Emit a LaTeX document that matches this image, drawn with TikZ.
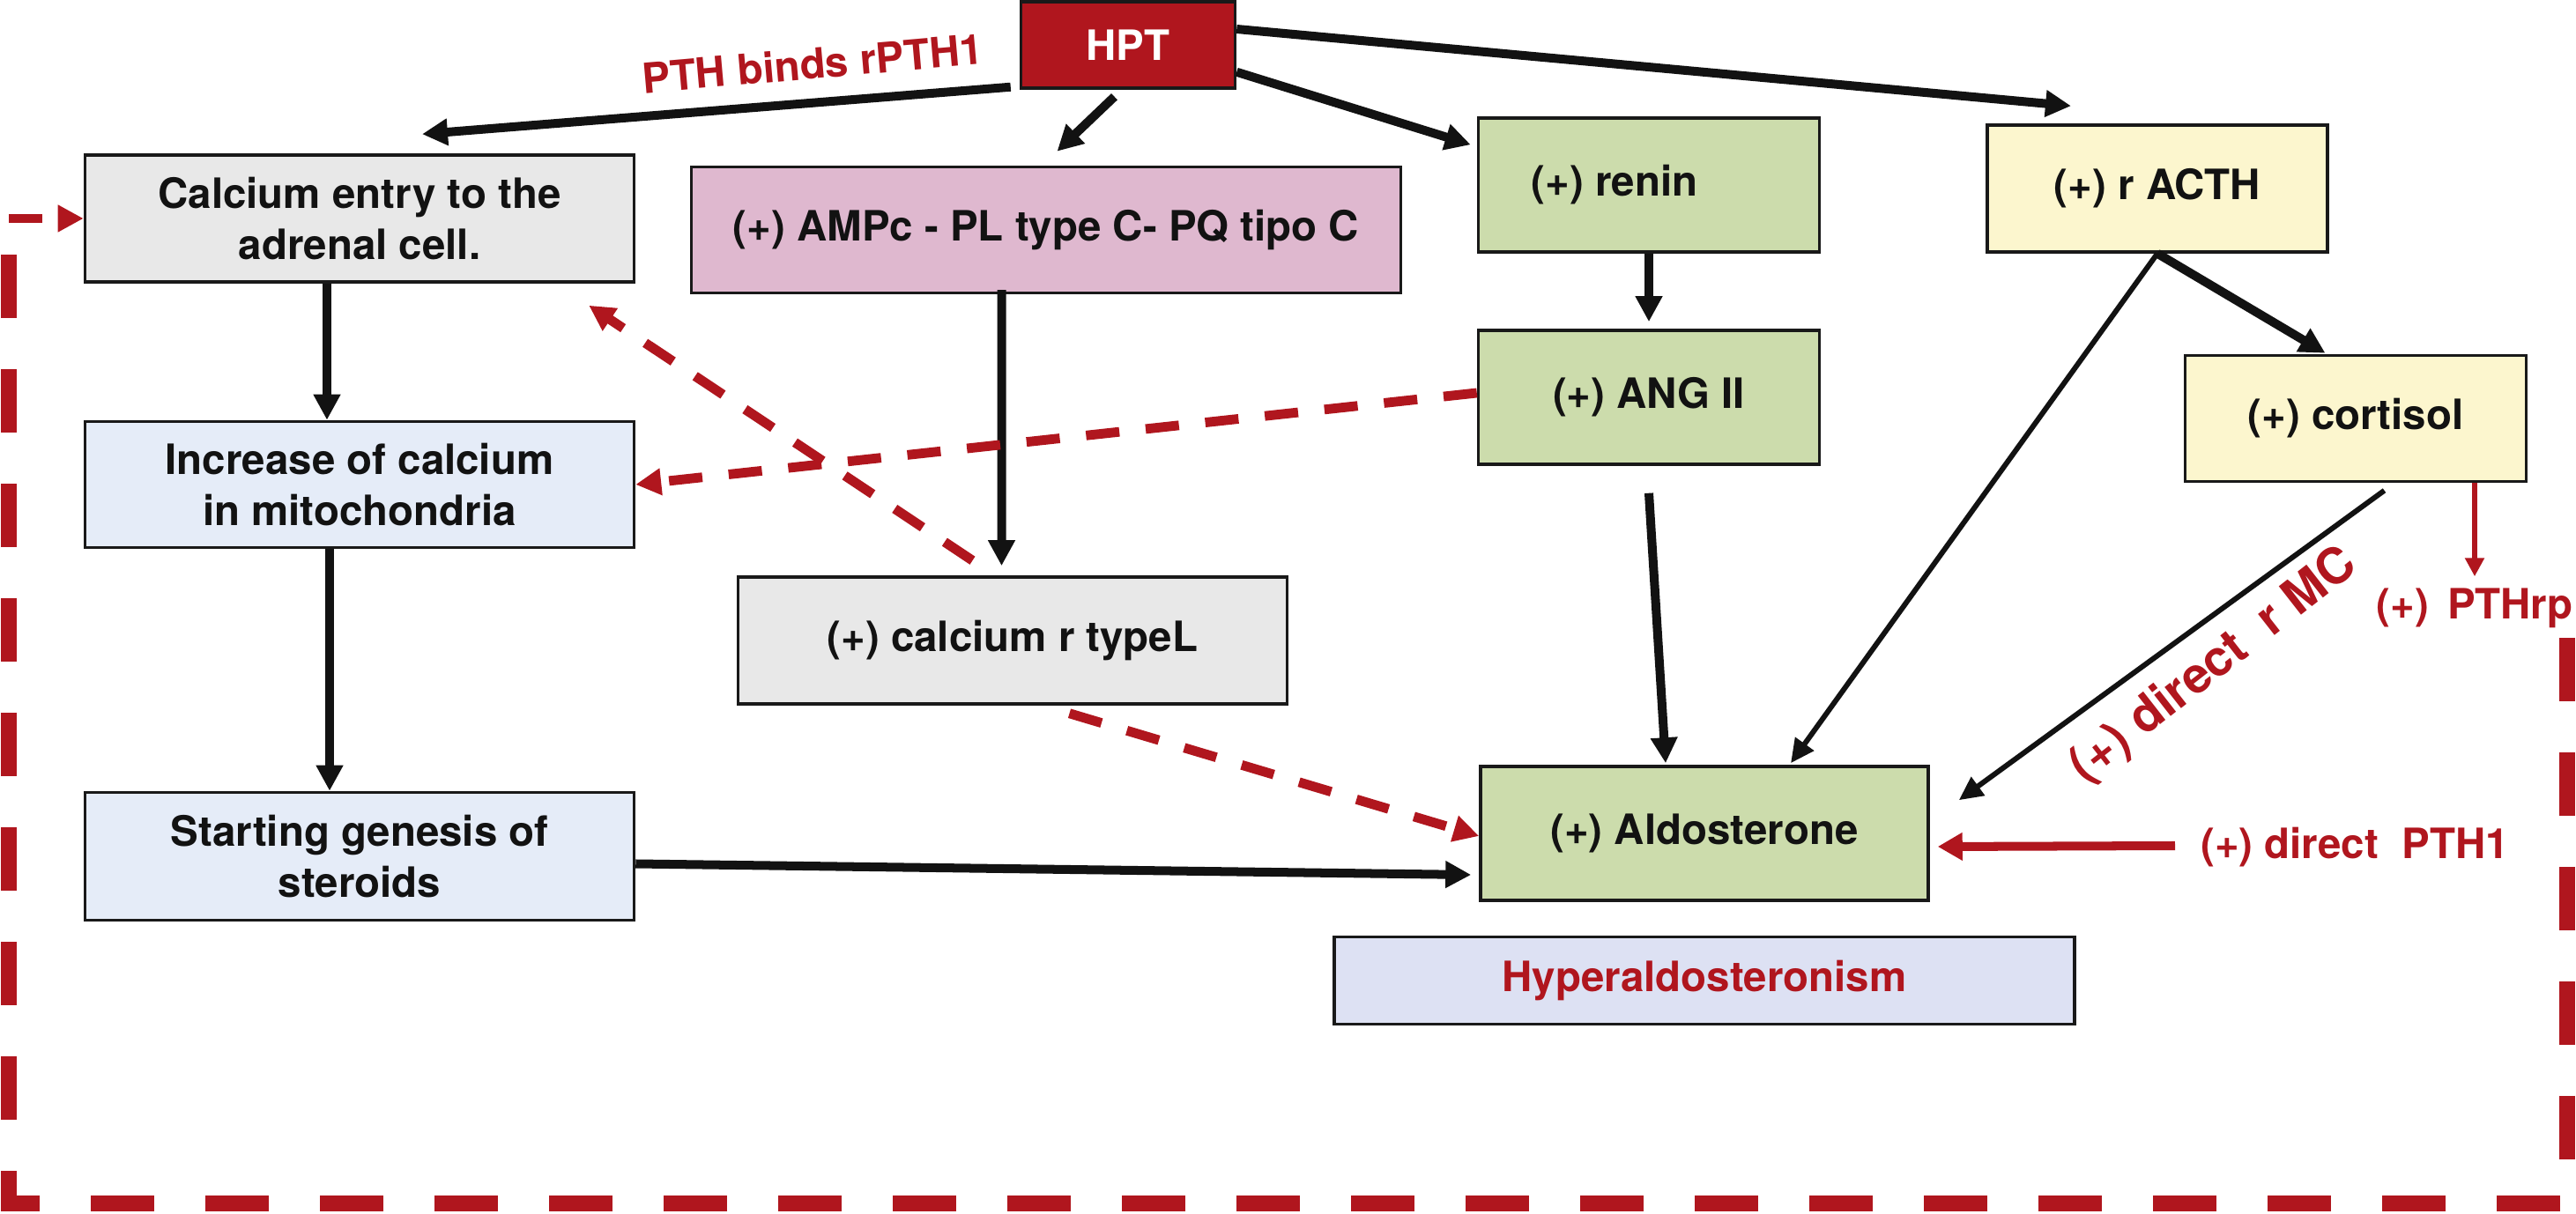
\documentclass[tikz,border=0pt]{standalone}
\usepackage{fontspec}
\setmainfont{TeX Gyre Heros}
\usetikzlibrary{arrows.meta,calc}
\definecolor{hptred}{HTML}{B0161E}
\definecolor{cagray}{HTML}{E8E8E8}
\definecolor{mitoblue}{HTML}{E5ECF8}
\definecolor{ampcpink}{HTML}{DFB8CF}
\definecolor{raagreen}{HTML}{CCDCAC}
\definecolor{acthyellow}{HTML}{FCF6CE}
\definecolor{hyperblue}{HTML}{DDE1F3}

\begin{document}
\begin{tikzpicture}[
 	box/.style={draw=black!90, line width=1pt, inner sep=0pt, align=center,
 		font=\fontsize{13.5}{16.3}\selectfont\bfseries, text=black!93},
 	redtext/.style={text=hptred, inner sep=1pt, font=\fontsize{13.5}{16.3}\selectfont\bfseries},
 	flow/.style={draw=black!93, line width=2.85pt, -{Triangle[length=0.29cm,width=0.29cm]}},
 	thinflow/.style={draw=black!93, line width=1.7pt, -{Triangle[length=0.27cm,width=0.25cm]}},
 	redflow/.style={draw=hptred, line width=2.85pt, -{Triangle[length=0.28cm,width=0.30cm]}},
 	redthin/.style={draw=hptred, line width=1.8pt, -{Triangle[length=0.21cm,width=0.21cm]}},
 	reddash/.style={draw=hptred, line width=3.1pt, dash pattern=on 0.38cm off 0.30cm,
 		-{Triangle[length=0.29cm,width=0.29cm]}},
 	border/.style={draw=hptred, line width=5.1pt, dash pattern=on 0.72cm off 0.58cm}
 ]
 	\useasboundingbox (0,0) rectangle (29.23,-13.78);

 	\node[box, fill=hptred, text=white, minimum width=2.43cm, minimum height=0.98cm] (hpt) at (12.80,-0.51) {HPT};
 	\node[box, fill=cagray, minimum width=6.23cm, minimum height=1.44cm] (entry) at (4.08,-2.48) {Calcium entry to the\\adrenal cell.};
 	\node[box, fill=mitoblue, minimum width=6.23cm, minimum height=1.43cm] (incr) at (4.08,-5.50) {Increase of calcium\\in mitochondria};
 	\node[box, fill=mitoblue, minimum width=6.23cm, minimum height=1.45cm] (steroid) at (4.08,-9.72) {Starting genesis of\\steroids};
 	\node[box, fill=ampcpink, minimum width=8.05cm, minimum height=1.43cm] (ampc) at (11.87,-2.61) {(+) AMPc - PL type C- PQ tipo C};
 	\node[box, fill=cagray, minimum width=6.23cm, minimum height=1.44cm] (typel) at (11.49,-7.27) {(+) calcium r typeL};
 	\node[box, fill=raagreen, minimum width=3.87cm, minimum height=1.52cm] (renin) at (18.71,-2.10) {(+) renin\hspace{0.78cm}};
 	\node[box, fill=raagreen, minimum width=3.87cm, minimum height=1.52cm] (angii) at (18.71,-4.51) {(+) ANG II};
 	\node[box, fill=acthyellow, minimum width=3.86cm, minimum height=1.44cm] (acth) at (24.48,-2.14) {(+) r ACTH};
 	\node[box, fill=acthyellow, minimum width=3.87cm, minimum height=1.43cm] (cortisol) at (26.73,-4.75) {(+) cortisol};
 	\node[box, fill=raagreen, minimum width=5.08cm, minimum height=1.52cm] (aldo) at (19.34,-9.46) {(+) Aldosterone};
 	\node[box, fill=hyperblue, text=hptred, minimum width=8.40cm, minimum height=0.99cm] (hyper) at (19.34,-11.13) {Hyperaldosteronism};

 	\node[redtext, rotate=5] (binds) at (9.22,-0.72) {PTH binds rPTH1};
 	\node[redtext, rotate=38, font=\fontsize{16}{18}\selectfont\bfseries] (directmc) at (25.12,-7.56) {(+) direct\ \ r MC};
 	\node[redtext] (pthrp) at (28.08,-6.90) {(+)\ \,PTHrp};
 	\node[redtext] (pth1) at (26.72,-9.62) {(+) direct\ \ PTH1};

 	\draw[flow] ($(hpt.south west)+(-0.10,0.03)$) -- ($(entry.north)+(0.71,0.22)$);
 	\draw[flow] ($(hpt.south)+(-0.155,-0.08)$) -- ($(ampc.north)+(0.125,0.16)$);
 	\draw[flow] ($(hpt.south east)+(0,0.20)$) -- ($(renin.north west)+(-0.07,-0.32)$);
 	\draw[flow] ($(hpt.east)+(0,0.18)$) -- ($(acth.north)+(-0.98,0.20)$);
 	\draw[flow] ($(entry.south)+(-0.37,0)$) -- ($(incr.north)+(-0.37,0)$);
 	\draw[flow] ($(incr.south)+(-0.34,0)$) -- ($(steroid.north)+(-0.34,0)$);
 	\draw[flow] ($(ampc.south)+(-0.505,0.05)$) -- ($(typel.north)+(-0.125,0.11)$);
 	\draw[flow] (renin.south) -- ($(angii.north)+(0,0.08)$);
 	\draw[flow] ($(angii.south)+(0,-0.31)$) -- ($(aldo.north)+(-0.44,0.02)$);
 	\draw[flow] (acth.south) -- ($(cortisol.north)+(-0.345,0.01)$);
 	\draw[thinflow] (acth.south) -- ($(aldo.north)+(0.98,0.02)$);
 	\draw[thinflow] ($(cortisol.south)+(0.325,-0.085)$) -- ($(aldo.north east)+(0.33,-0.40)$);
 	\draw[flow] ($(steroid.east)+(0,-0.085)$) -- ($(aldo.west)+(-0.09,-0.47)$);
 	\draw[redthin] (cortisol.south -| pthrp.north) -- ($(pthrp.north)+(0,0.09)$);
 	\draw[redflow] ($(pth1.west)+(-0.25,0.02)$) -- ($(aldo.east)+(0.09,-0.15)$);

 	\draw[reddash] ($(angii.west)+(0,0.05)$) -- (incr.east);
 	\draw[reddash] ($(typel.north)+(-0.455,0.17)$) -- ($(entry.south east)+(-0.53,-0.25)$);
 	\draw[reddash] ($(typel.south)+(0.645,-0.09)$) -- ($(aldo.west)+(0,-0.03)$);

 	\coordinate (loop) at (29.13,-7.24);
 	\coordinate (corner) at (0.10,-2.48);
 	\draw[border] (loop) -- (29.13,-13.66) -- (0.10,-13.66) -- (0.10,-2.66);
 	\draw[reddash] (corner) -- (entry.west);
\end{tikzpicture}
\end{document}
